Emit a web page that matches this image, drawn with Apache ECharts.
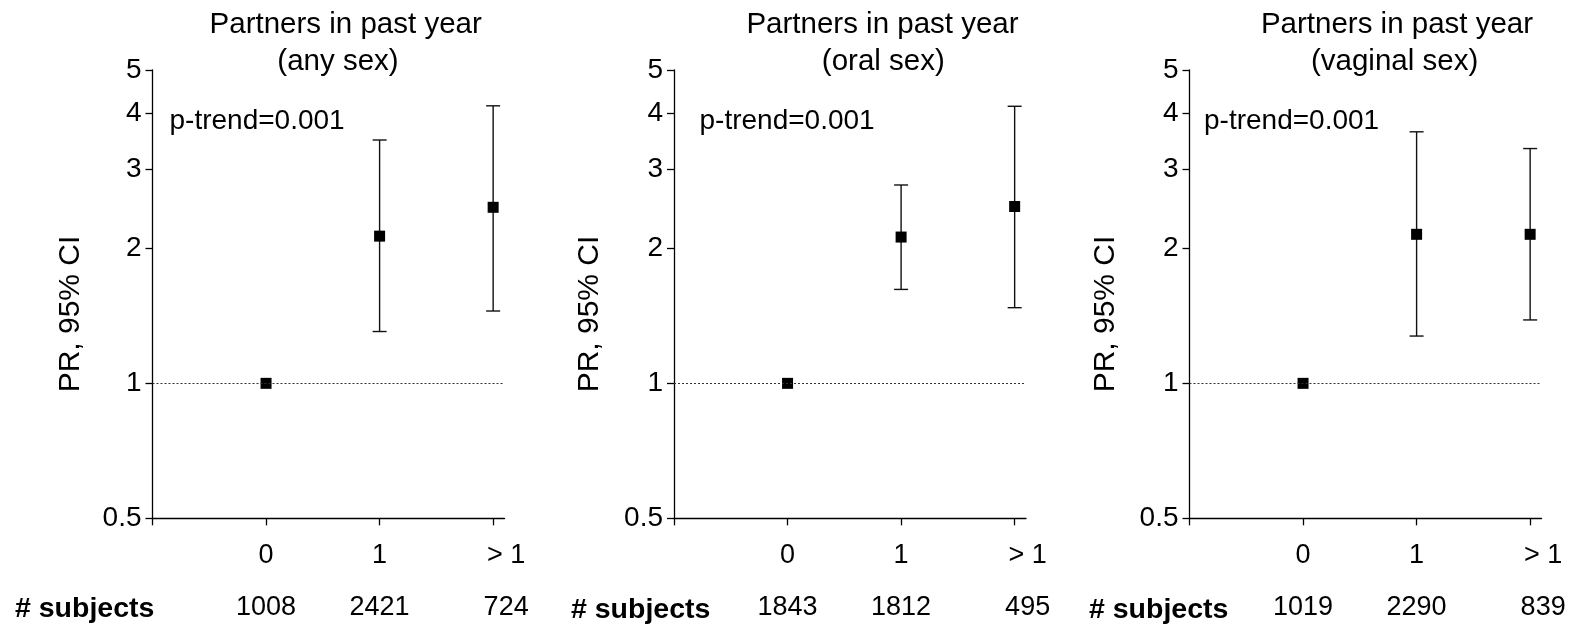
<!DOCTYPE html>
<html><head><meta charset="utf-8">
<script src="https://cdn.jsdelivr.net/npm/echarts@6/dist/echarts.min.js"></script>
<style>html,body{margin:0;padding:0;background:#fff}#c{width:1577px;height:628px}</style>
</head><body><div id="c"></div>
<script>
// ---------- data ----------
const categories = ['0', '1', '> 1'];
const catPositions = [0, 1, 2];
const yTickValues = [0.5, 1, 2, 3, 4, 5];
const titleLine1 = ['Partners in past year', 'Partners in past year', 'Partners in past year'];
const titleLine2 = ['(any sex)', '(oral sex)', '(vaginal sex)'];
const pTrendText = ['p-trend=0.001', 'p-trend=0.001', 'p-trend=0.001'];
const yAxisName = 'PR, 95% CI';
const subjectsLabel = '# subjects';

const prAny = [1, 2.13, 2.47];
const lowerAny = [1, 1.305, 1.45];
const upperAny = [1, 3.49, 4.16];
const subjectsAny = [1008, 2421, 724];

const prOral = [1, 2.12, 2.48];
const lowerOral = [1, 1.62, 1.475];
const upperOral = [1, 2.77, 4.15];
const subjectsOral = [1843, 1812, 495];

const prVaginal = [1, 2.15, 2.15];
const lowerVaginal = [1, 1.275, 1.385];
const upperVaginal = [1, 3.64, 3.34];
const subjectsVaginal = [1019, 2290, 839];

// ---------- chart ----------
const FONT = "'Liberation Sans', Arial, sans-serif";
const panels = [
  {pr: prAny, lo: lowerAny, hi: upperAny, n: subjectsAny},
  {pr: prOral, lo: lowerOral, hi: upperOral, n: subjectsOral},
  {pr: prVaginal, lo: lowerVaginal, hi: upperVaginal, n: subjectsVaginal}
];
const gridLeft = [152.5, 674, 1189.5];
const title1X = [345.7, 882.5, 1397];
const title2X = [338, 883.3, 1394.6];
const pTrendX = [169.5, 699.5, 1204];
const yNameX = [70.5, 590, 1106];
const subjLabelX = [15, 571, 1089];
const subjLabelY = [609, 610, 610];

const axisLineStyle = {color: '#000', width: 1.3};
const grids = [], xAxes = [], yAxes = [], series = [], graphics = [];

panels.forEach((p, i) => {
  grids.push({left: gridLeft[i], top: 70, width: 352, height: 448.3});
  const richBase = {fontSize: 27, lineHeight: 52, color: '#000', fontFamily: FONT};
  xAxes.push({
    type: 'value', gridIndex: i, min: -1, max: 2.1, interval: 1,
    axisLine: {show: true, onZero: false, lineStyle: axisLineStyle},
    axisTick: {show: true, length: 7, customValues: [-1, 0, 1, 2], lineStyle: axisLineStyle},
    splitLine: {show: false},
    axisLabel: {
      customValues: catPositions, margin: 11,
      formatter: function (v) {
        const k = Math.round(v);
        const s = k === 2 ? 'b' : 'a';
        return '{' + s + '|' + categories[k] + '}\n{' + s + '|' + p.n[k] + '}';
      },
      rich: {
        a: Object.assign({}, richBase),
        b: Object.assign({}, richBase, {padding: [0, 0, 0, 26]})
      }
    }
  });
  yAxes.push({
    type: 'log', logBase: 10, gridIndex: i, min: 0.5, max: 5,
    axisLine: {show: true, onZero: false, lineStyle: axisLineStyle},
    axisTick: {show: true, length: 7, customValues: yTickValues, lineStyle: axisLineStyle},
    axisLabel: {customValues: yTickValues, margin: 11, fontSize: 28, color: '#000', fontFamily: FONT,
      formatter: v => String(v)},
    splitLine: {show: false}, minorTick: {show: false}, minorSplitLine: {show: false}
  });
  const barData = [];
  catPositions.forEach((x, k) => { if (p.lo[k] !== p.hi[k]) barData.push([x, p.lo[k], p.hi[k]]); });
  series.push({
    type: 'custom', xAxisIndex: i, yAxisIndex: i, z: 2,
    encode: {x: 0, y: [1, 2]},
    data: barData,
    renderItem: function (params, api) {
      const x = api.value(0);
      const pLo = api.coord([x, api.value(1)]);
      const pHi = api.coord([x, api.value(2)]);
      const hw = 7;
      const style = {stroke: '#111', lineWidth: 1.4};
      return {type: 'group', children: [
        {type: 'line', shape: {x1: pLo[0], y1: pLo[1], x2: pHi[0], y2: pHi[1]}, style: style},
        {type: 'line', shape: {x1: pLo[0] - hw, y1: pLo[1], x2: pLo[0] + hw, y2: pLo[1]}, style: style},
        {type: 'line', shape: {x1: pHi[0] - hw, y1: pHi[1], x2: pHi[0] + hw, y2: pHi[1]}, style: style}
      ]};
    },
    markLine: {
      silent: true, symbol: ['none', 'none'], label: {show: false},
      lineStyle: {type: [2, 2], color: '#333', width: 1},
      data: [{yAxis: 1}]
    }
  });
  series.push({
    type: 'scatter', xAxisIndex: i, yAxisIndex: i, z: 3,
    symbol: 'rect', symbolSize: 11, itemStyle: {color: '#000', opacity: 1},
    data: catPositions.map((x, k) => [x, p.pr[k]])
  });
  graphics.push(
    {type: 'text', x: title1X[i], y: 25, style: {text: titleLine1[i], font: '29.5px ' + FONT, fill: '#000', align: 'center', verticalAlign: 'middle'}},
    {type: 'text', x: title2X[i], y: 62, style: {text: titleLine2[i], font: '29.5px ' + FONT, fill: '#000', align: 'center', verticalAlign: 'middle'}},
    {type: 'text', x: pTrendX[i], y: 121, style: {text: pTrendText[i], font: '28px ' + FONT, fill: '#000', align: 'left', verticalAlign: 'middle'}},
    {type: 'text', x: yNameX[i], y: 314, rotation: Math.PI / 2, style: {text: yAxisName, font: '30px ' + FONT, fill: '#000', align: 'center', verticalAlign: 'middle'}},
    {type: 'text', x: subjLabelX[i], y: subjLabelY[i], style: {text: subjectsLabel, font: 'bold 28.5px ' + FONT, fill: '#000', align: 'left', verticalAlign: 'middle'}}
  );
});

const chart = echarts.init(document.getElementById('c'), null, {renderer: 'canvas'});
chart.setOption({
  animation: false,
  backgroundColor: '#fff',
  grid: grids, xAxis: xAxes, yAxis: yAxes, series: series,
  graphic: graphics
});
</script>
</body></html>
